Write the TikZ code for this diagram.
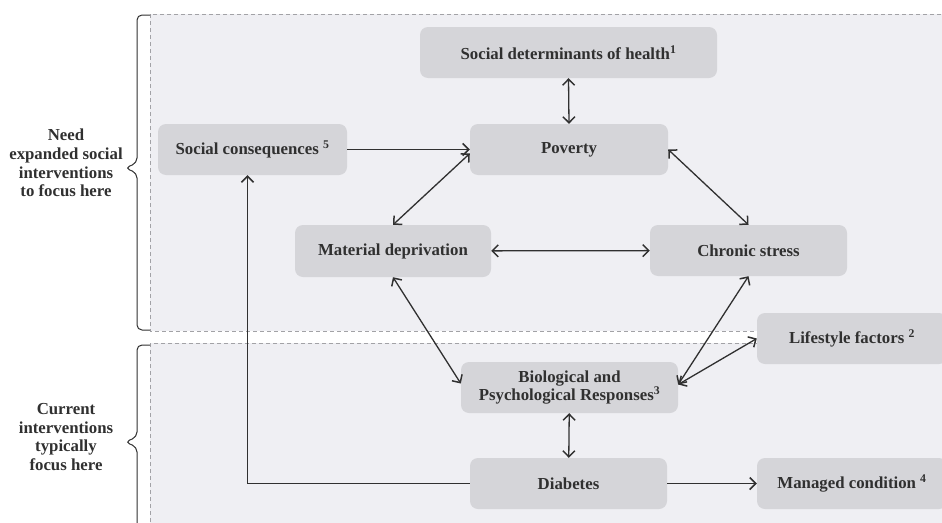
\documentclass[tikz,border=0pt]{standalone}
\usepackage{fontspec}
\setmainfont{Liberation Serif}
\usetikzlibrary{arrows.meta,decorations.pathreplacing,positioning}
\definecolor{panelgray}{HTML}{EFEFF3}
\definecolor{boxgray}{HTML}{D5D5D9}
\definecolor{inkgray}{HTML}{303030}
\definecolor{dashgray}{HTML}{A2A2A6}
\tikzset{
  diag scheme/.style = {
    x=1pt, y=-1pt,
    font=\fontsize{16.8}{18.7}\selectfont\bfseries,
    text=inkgray,
    % Box
    fbox/.style  = {fill=boxgray, rounded corners=8pt, minimum height=51pt,
                    inner sep=2pt, align=center},
    % Panels, braces
    panel/.style = {fill=panelgray, draw=dashgray, line width=1pt,
                    dash pattern=on 4pt off 3pt},
    sidebrace/.style = {draw=inkgray, line width=1pt, rounded corners=5pt},
    sidetext/.style  = {align=center},
    % Lines, arrows
    link/.style  = {draw=inkgray, line width=1.3pt,
                    -{Straight Barb[length=6pt,width=12pt,line width=1.5pt]}},
    dlink/.style = {link, {Straight Barb[length=6pt,width=12pt,line width=1.5pt]}-{Straight Barb[length=6pt,width=12pt,line width=1.5pt]}},
  }
}
\begin{document}
\begin{tikzpicture}[diag scheme]
\useasboundingbox (0,0) rectangle (942,522);
\clip (0,0) rectangle (942,522);

%---------------------------------------------
\path[panel] (150,14) rectangle (960,331);
\path[panel] (150,343) rectangle (960,545);

\draw[sidebrace] (150,15) -- (137,15) -- (137,163) -- (125,168) -- (137,173) -- (137,330) -- (150,330);
\draw[sidebrace] (150,345) -- (137,345) -- (137,437) -- (125,442) -- (137,447) -- (137,540);
\node[sidetext] (need) at (66,163) {Need\\expanded social\\interventions\\to focus here};
\node[sidetext] (cur)  at (66,437) {Current\\interventions\\typically\\focus here};

%---------------------------------------------
\node[fbox, minimum width=297pt] (sdoh) at (568.5,52.5)  {Social determinants of health\textsuperscript{1}};
\node[fbox, minimum width=198pt] (pov)  at (569,149.5)   {Poverty};
\node[fbox, minimum width=189pt] (soc)  at (252.5,149.5) {Social consequences \textsuperscript{5}};
\node[fbox, minimum width=196pt, minimum height=52pt] (mat) at (393,251) {Material deprivation};
\node[fbox, minimum width=197pt] (chr)  at (748.5,250.5) {Chronic stress};
\node[fbox, minimum width=190pt] (life) at (852,338.5)   {Lifestyle factors \textsuperscript{2}};
\node[fbox, minimum width=217pt] (bio)  at (569.5,387.5) {Biological and\\Psychological Responses\textsuperscript{3}};
\node[fbox, minimum width=197pt] (diab) at (568.5,483.5) {Diabetes};
\node[fbox, minimum width=190pt] (man)  at (852,483.5)   {Managed condition \textsuperscript{4}};

%---------------------------------------------
\draw[dlink] (sdoh.south) -- (pov.north);
\draw[link]  (soc) -- (pov);
\draw[dlink] ([yshift=-4pt]pov.west) -- (mat.north);
\draw[dlink] (pov.east) -- (chr.north);
\draw[dlink] (mat) -- (chr);
\draw[dlink] (mat.south) -- ([yshift=4pt]bio.west);
\draw[dlink] (chr.south) -- ([yshift=3pt]bio.east);
\draw[dlink] (life.west) -- ([yshift=3pt]bio.east);
\draw[dlink] (bio) -- (diab);
\draw[link]  (diab) -- (man);
\draw[link]  (diab.west) -| ([xshift=-5pt]soc.south);

\end{tikzpicture}
\end{document}
